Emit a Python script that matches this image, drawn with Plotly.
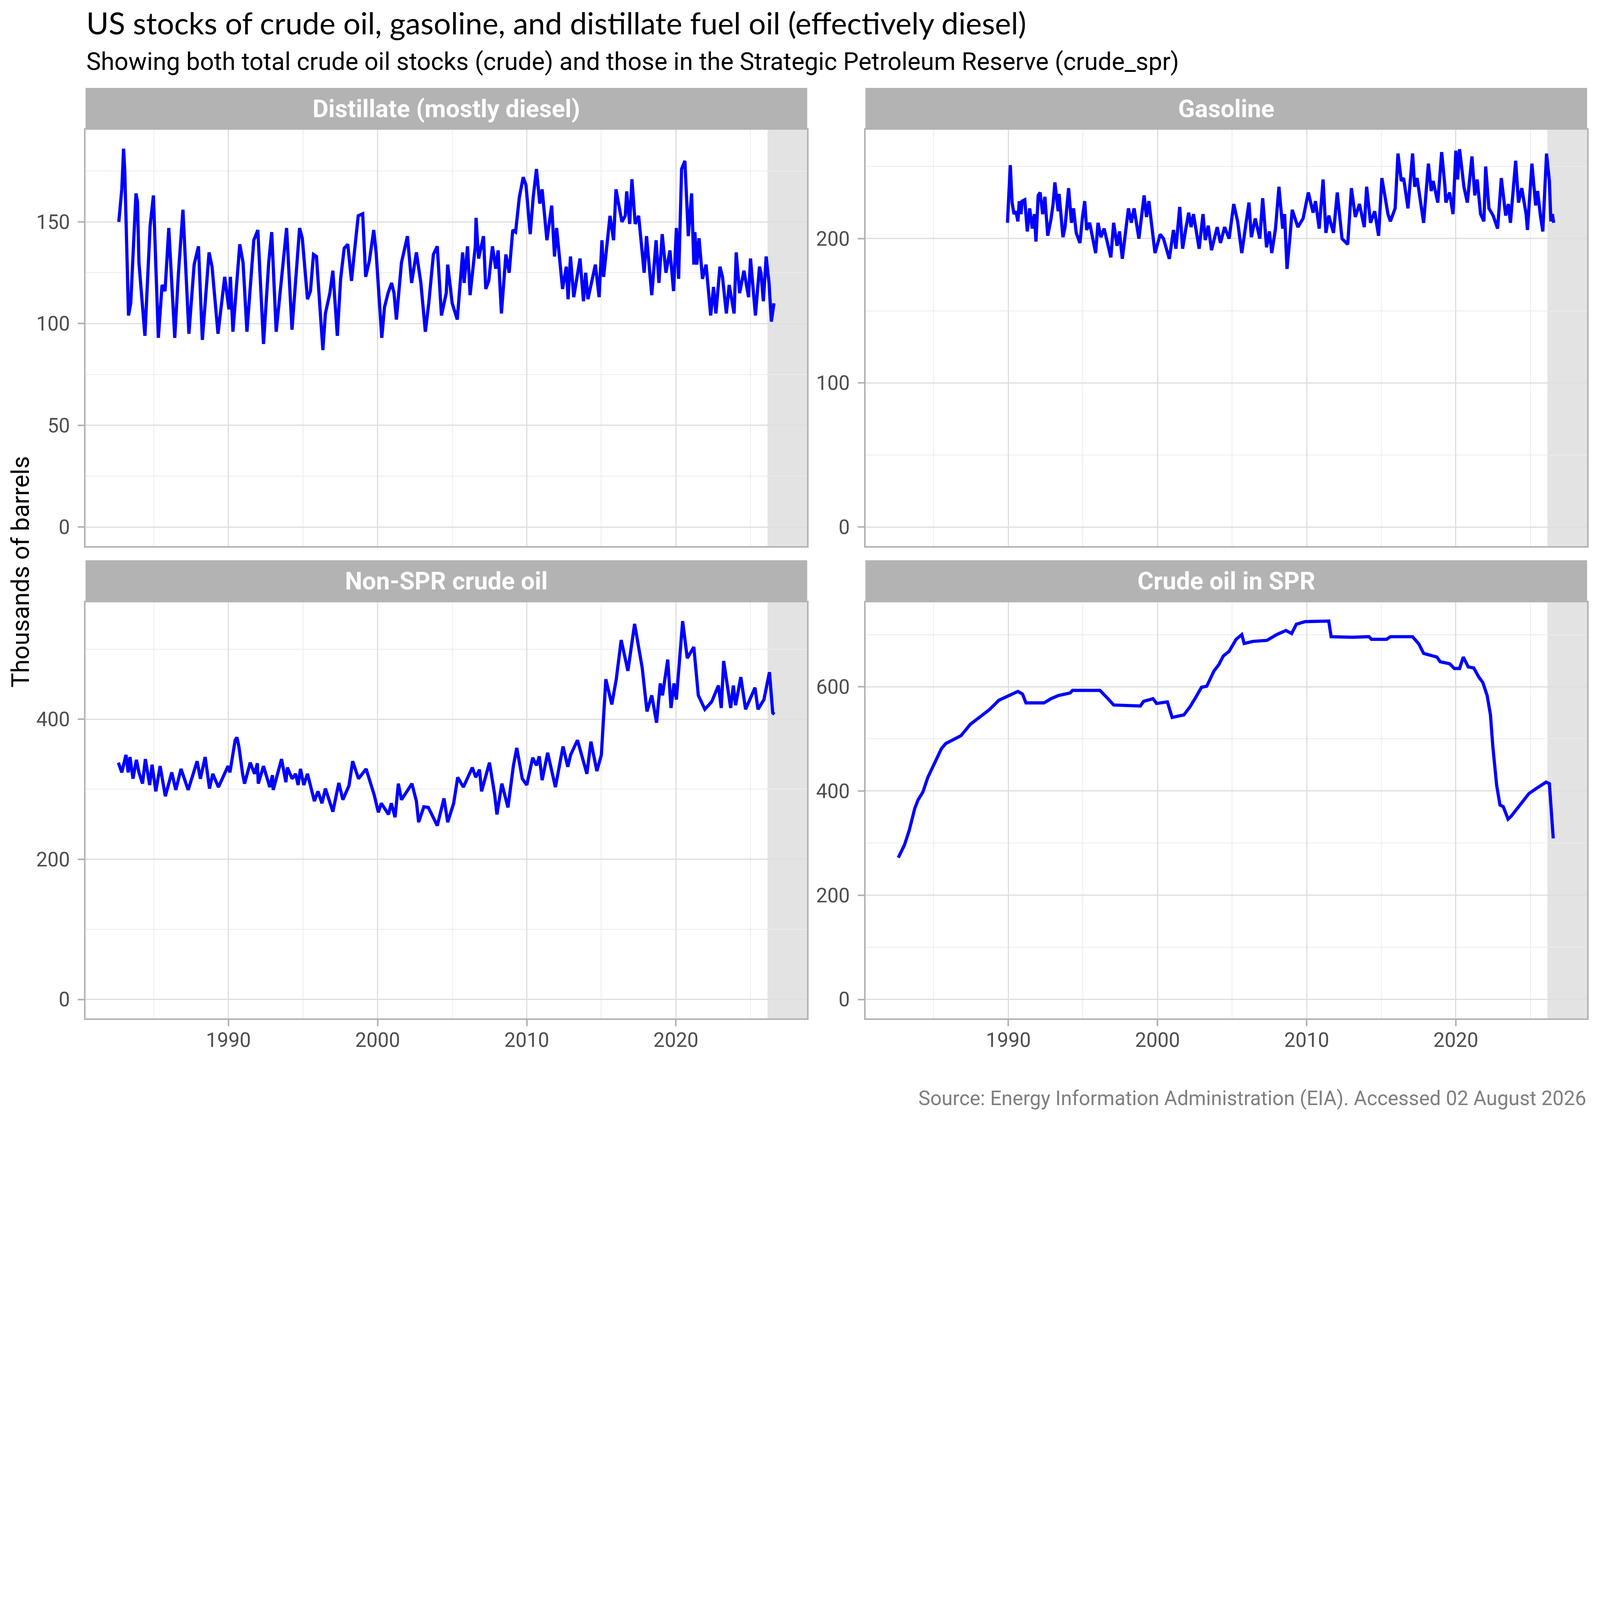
import plotly.graph_objects as go

# distillate fuel oil stocks
dist_year = [1982.65, 1982.72, 1982.85, 1982.97, 1983.05, 1983.3, 1983.45, 1983.8, 1983.9, 1984.0,
             1984.4, 1984.75, 1984.97, 1985.3, 1985.55, 1985.75, 1986.0, 1986.4, 1986.65, 1986.95,
             1987.35, 1987.7, 1987.99, 1988.25, 1988.7, 1988.9, 1989.3, 1989.75, 1990.03, 1990.13,
             1990.3, 1990.76, 1990.98, 1991.24, 1991.7, 1991.97, 1992.35, 1992.7, 1992.9, 1993.2,
             1993.6, 1993.9, 1994.26, 1994.77, 1994.95, 1995.3, 1995.5, 1995.7, 1995.9, 1996.33,
             1996.5, 1996.8, 1997.0, 1997.3, 1997.52, 1997.76, 1998.0, 1998.25, 1998.4, 1998.56,
             1998.7, 1999.0, 1999.2, 1999.45, 1999.74, 1999.9, 2000.28, 2000.46, 2000.7, 2000.94,
             2001.1, 2001.26, 2001.6, 2002.0, 2002.28, 2002.6, 2002.9, 2003.2, 2003.43, 2003.74,
             2004.0, 2004.28, 2004.6, 2004.7, 2005.0, 2005.34, 2005.7, 2005.8, 2006.03, 2006.2,
             2006.55, 2006.6, 2006.77, 2007.1, 2007.25, 2007.45, 2007.7, 2007.92, 2008.08, 2008.3,
             2008.6, 2008.82, 2009.06, 2009.25, 2009.5, 2009.76, 2009.95, 2010.23, 2010.43, 2010.65,
             2010.87, 2011.03, 2011.35, 2011.67, 2011.86, 2012.0, 2012.4, 2012.65, 2012.77, 2012.93,
             2013.15, 2013.57, 2013.8, 2013.95, 2014.1, 2014.6, 2014.85, 2015.04, 2015.15, 2015.58,
             2015.82, 2015.98, 2016.38, 2016.6, 2016.7, 2016.9, 2017.05, 2017.27, 2017.5, 2017.87,
             2018.03, 2018.38, 2018.67, 2018.86, 2019.08, 2019.33, 2019.6, 2019.84, 2020.03, 2020.18,
             2020.38, 2020.6, 2020.83, 2021.05, 2021.2, 2021.27, 2021.4, 2021.55, 2021.78, 2022.02,
             2022.33, 2022.52, 2022.68, 2022.95, 2023.12, 2023.38, 2023.57, 2023.9, 2024.04, 2024.27,
             2024.56, 2024.87, 2025.0, 2025.33, 2025.6, 2025.7, 2025.86, 2026.05, 2026.24, 2026.4,
             2026.57]
dist_val = [150, 156, 166, 186, 175, 104, 110, 164, 160, 130,
            94, 148, 163, 93, 119, 116, 147, 93, 125, 156,
            95, 129, 138, 92, 135, 128, 95, 123, 107, 123,
            96, 139, 130, 96, 141, 146, 90, 130, 145, 96,
            127, 147, 97, 147, 142, 112, 116, 134, 133, 87,
            105, 115, 126, 94, 122, 137, 139, 121, 132, 145,
            153, 154, 123, 131, 146, 135, 93, 108, 115, 120,
            115, 102, 130, 143, 120, 135, 120, 96, 110, 134,
            138, 104, 115, 129, 110, 102, 135, 120, 138, 114,
            138, 152, 132, 143, 117, 121, 138, 127, 136, 105,
            134, 125, 146, 145, 162, 172, 168, 144, 162, 176,
            159, 166, 141, 158, 133, 147, 117, 128, 112, 133,
            113, 132, 111, 125, 112, 129, 113, 141, 123, 153,
            141, 166, 150, 153, 165, 149, 171, 149, 153, 125,
            143, 114, 141, 120, 144, 125, 136, 116, 147, 122,
            176, 180, 143, 164, 129, 145, 129, 142, 122, 129,
            104, 118, 105, 128, 123, 105, 119, 105, 135, 115,
            126, 113, 132, 104, 128, 125, 111, 133, 120, 101,
            110]

gas_year = [1989.94, 1990.13, 1990.25, 1990.38, 1990.5, 1990.64, 1990.73, 1990.85, 1990.92, 1991.1,
            1991.27, 1991.43, 1991.6, 1991.75, 1991.85, 1992.0, 1992.13, 1992.3, 1992.45, 1992.64,
            1992.85, 1993.0, 1993.12, 1993.34, 1993.4, 1993.66, 1993.8, 1994.04, 1994.23, 1994.37,
            1994.55, 1994.8, 1994.97, 1995.12, 1995.25, 1995.45, 1995.85, 1996.01, 1996.2, 1996.42,
            1996.87, 1997.06, 1997.29, 1997.45, 1997.64, 1997.8, 1998.05, 1998.24, 1998.43, 1998.75,
            1999.1, 1999.26, 1999.42, 1999.83, 2000.18, 2000.4, 2000.79, 2001.07, 2001.23, 2001.49,
            2001.68, 2001.9, 2002.09, 2002.25, 2002.41, 2002.57, 2002.79, 2003.05, 2003.2, 2003.4,
            2003.62, 2004.0, 2004.22, 2004.5, 2004.8, 2005.11, 2005.37, 2005.65, 2005.8, 2006.13,
            2006.29, 2006.55, 2006.86, 2007.05, 2007.31, 2007.5, 2007.66, 2007.91, 2008.14, 2008.39,
            2008.52, 2008.68, 2008.87, 2009.03, 2009.41, 2009.76, 2010.11, 2010.43, 2010.59, 2010.84,
            2011.1, 2011.29, 2011.48, 2011.8, 2012.05, 2012.37, 2012.75, 2013.0, 2013.26, 2013.54,
            2013.86, 2014.02, 2014.28, 2014.56, 2014.82, 2015.04, 2015.45, 2015.61, 2015.93, 2016.12,
            2016.34, 2016.5, 2016.79, 2017.1, 2017.24, 2017.4, 2017.84, 2018.16, 2018.35, 2018.48,
            2018.79, 2019.05, 2019.27, 2019.33, 2019.58, 2019.81, 2020.0, 2020.12, 2020.25, 2020.54,
            2020.77, 2021.08, 2021.27, 2021.43, 2021.66, 2021.88, 2022.0, 2022.22, 2022.5, 2022.8,
            2023.05, 2023.34, 2023.52, 2023.66, 2024.01, 2024.2, 2024.42, 2024.71, 2024.8, 2025.1,
            2025.35, 2025.48, 2025.67, 2025.83, 2026.08, 2026.27, 2026.37, 2026.47, 2026.56]
gas_val = [211, 251, 225, 217, 219, 212, 226, 217, 226, 227,
           205, 221, 207, 217, 198, 230, 232, 217, 229, 202,
           213, 224, 239, 219, 231, 201, 208, 235, 211, 221,
           204, 197, 215, 226, 206, 211, 190, 211, 201, 207,
           187, 211, 195, 205, 186, 199, 221, 211, 221, 200,
           230, 215, 226, 190, 203, 200, 186, 206, 193, 222,
           193, 207, 218, 208, 217, 207, 193, 217, 199, 209,
           192, 208, 197, 208, 200, 224, 212, 190, 202, 225,
           201, 214, 200, 228, 194, 205, 190, 207, 236, 207,
           217, 179, 200, 220, 208, 214, 232, 218, 226, 207,
           241, 204, 216, 204, 232, 200, 196, 235, 215, 224,
           208, 236, 211, 219, 202, 242, 217, 212, 221, 259,
           240, 242, 221, 259, 236, 242, 211, 252, 233, 240,
           225, 260, 236, 225, 232, 217, 261, 241, 262, 236,
           225, 257, 230, 241, 217, 212, 250, 221, 216, 207,
           242, 216, 224, 211, 254, 225, 235, 217, 206, 252,
           223, 233, 216, 205, 259, 240, 212, 217, 211]

crude_year = [1982.62, 1982.85, 1983.13, 1983.28, 1983.4, 1983.6, 1983.83, 1984.0, 1984.24, 1984.43,
              1984.72, 1984.88, 1985.13, 1985.42, 1985.77, 1986.2, 1986.47, 1986.82, 1987.3, 1987.9,
              1988.12, 1988.44, 1988.73, 1988.95, 1989.33, 1989.97, 1990.1, 1990.45, 1990.57, 1990.7,
              1990.95, 1991.08, 1991.46, 1991.75, 1991.94, 1992.0, 1992.35, 1992.77, 1992.95, 1993.0,
              1993.56, 1993.85, 1993.95, 1994.27, 1994.5, 1994.67, 1994.83, 1995.05, 1995.3, 1995.76,
              1996.0, 1996.27, 1996.5, 1996.8, 1997.0, 1997.4, 1997.67, 1998.08, 1998.33, 1998.72,
              1999.23, 1999.77, 2000.05, 2000.25, 2000.73, 2000.92, 2001.17, 2001.39, 2001.6, 2002.06,
              2002.3, 2002.6, 2002.75, 2003.1, 2003.4, 2004.0, 2004.45, 2004.7, 2005.1, 2005.37,
              2005.75, 2006.35, 2006.58, 2006.83, 2006.97, 2007.5, 2007.85, 2008.0, 2008.33, 2008.74,
              2008.93, 2009.1, 2009.33, 2009.7, 2010.0, 2010.4, 2010.65, 2010.84, 2011.03, 2011.4,
              2011.92, 2012.43, 2012.75, 2012.94, 2013.4, 2014.03, 2014.3, 2014.7, 2015.0, 2015.3,
              2015.7, 2016.0, 2016.33, 2016.78, 2017.23, 2017.74, 2018.06, 2018.38, 2018.7, 2018.95,
              2019.1, 2019.45, 2019.67, 2019.87, 2020.03, 2020.45, 2020.76, 2021.2, 2021.5, 2021.94,
              2022.4, 2022.85, 2023.04, 2023.2, 2023.67, 2023.85, 2024.0, 2024.35, 2024.67, 2025.3,
              2025.5, 2025.9, 2026.27, 2026.49, 2026.6]
crude_val = [338, 324, 349, 324, 346, 315, 342, 324, 308, 343,
             306, 335, 297, 333, 290, 324, 299, 329, 299, 340,
             315, 346, 301, 322, 303, 333, 324, 370, 374, 361,
             322, 308, 338, 322, 337, 308, 333, 303, 320, 299,
             343, 310, 331, 315, 322, 306, 329, 306, 322, 283,
             297, 280, 301, 280, 268, 309, 285, 305, 340, 315,
             329, 292, 267, 280, 264, 280, 260, 308, 285, 300,
             308, 283, 253, 275, 274, 248, 287, 253, 280, 317,
             303, 331, 317, 328, 297, 338, 292, 264, 308, 274,
             303, 333, 359, 315, 306, 345, 334, 347, 313, 352,
             303, 361, 332, 349, 370, 322, 368, 326, 349, 457,
             421, 457, 513, 469, 536, 473, 411, 434, 395, 451,
             434, 485, 416, 451, 428, 540, 487, 503, 434, 414,
             425, 448, 416, 483, 416, 448, 420, 460, 414, 445,
             414, 428, 467, 409, 407]

spr_year = [1982.62, 1982.85, 1983.03, 1983.35, 1983.54, 1983.73, 1983.95, 1984.27, 1984.6, 1984.75,
            1985.07, 1985.51, 1985.8, 1986.82, 1987.45, 1988.1, 1988.73, 1989.36, 1990.0, 1990.32,
            1990.64, 1990.95, 1991.18, 1992.39, 1992.86, 1993.34, 1994.14, 1994.3, 1996.14, 1996.68,
            1997.06, 1998.85, 1999.07, 1999.7, 1999.94, 2000.66, 2000.98, 2001.77, 2002.19, 2002.57,
            2002.95, 2003.3, 2003.78, 2004.1, 2004.41, 2004.8, 2005.27, 2005.65, 2005.81, 2006.39,
            2007.34, 2007.98, 2008.61, 2008.99, 2009.31, 2009.9, 2011.48, 2011.64, 2013.07, 2014.18,
            2014.34, 2015.36, 2015.61, 2017.1, 2017.52, 2017.84, 2018.73, 2018.95, 2019.59, 2019.9,
            2020.25, 2020.5, 2020.83, 2021.2, 2021.53, 2021.81, 2022.1, 2022.32, 2022.48, 2022.74,
            2022.96, 2023.18, 2023.5, 2023.72, 2024.2, 2024.9, 2025.35, 2026.05, 2026.27, 2026.53]
spr_val = [272, 287, 296, 324, 343, 367, 383, 398, 426, 435,
           457, 481, 491, 506, 528, 543, 556, 574, 582, 586,
           591, 586, 569, 569, 577, 583, 588, 593, 593, 577,
           565, 563, 572, 577, 568, 571, 541, 546, 562, 580,
           599, 601, 630, 642, 659, 668, 691, 700, 683, 687,
           689, 700, 708, 702, 720, 725, 726, 696, 695, 696,
           691, 691, 696, 696, 682, 664, 657, 648, 644, 635,
           635, 657, 638, 636, 619, 608, 583, 546, 485, 410,
           373, 370, 346, 352, 370, 395, 404, 417, 414, 309]

panel_titles = ["Distillate (mostly diesel)", "Gasoline", "Non-SPR crude oil", "Crude oil in SPR"]
year_ticks = [1990, 2000, 2010, 2020]
shade_start = 2026.14

series = [(dist_year, dist_val), (gas_year, gas_val), (crude_year, crude_val), (spr_year, spr_val)]
y_ranges = [[-9.3, 195.3], [-13.1, 275.5], [-27, 567], [-36.3, 762.3]]
y_dticks = [50, 100, 200, 200]
x_range = [1980.42, 2028.8]

# the browser shows the page ~1.465x (4096 css px across 6000 px),
# so size everything in css px from the 6000px target
K = 4096 / 6000
BODY = 8  # default page margin plotly's html leaves around the div


def px(v):
    return v * K


# panel domains in paper coords (worked out from the reference layout)
x_doms = [[0, 0.4806], [0.5194, 1], [0, 0.4806], [0.5194, 1]]
y_doms = [[0.5077, 0.955], [0.5077, 0.955], [0, 0.4473], [0, 0.4473]]
strip_doms = [[0.955, 1.0], [0.955, 1.0], [0.4473, 0.4923], [0.4473, 0.4923]]

GRID = "#dedede"
MINOR = "#ececec"
BORDER = "#b3b3b3"
FONT = "Roboto"
tick_font = dict(family=FONT, size=px(75), color="#4d4d4d")

fig = go.Figure()
layout = {}
shapes = []
annotations = []

for i, (xs, ys) in enumerate(series):
    n = "" if i == 0 else str(i + 1)
    fig.add_trace(go.Scatter(x=xs, y=ys, mode="lines", xaxis="x" + n, yaxis="y" + n,
                             line=dict(color="#0000ff", width=px(12)), showlegend=False,
                             hoverinfo="skip"))
    bottom = i >= 2
    layout["xaxis" + n] = dict(
        domain=x_doms[i], anchor="y" + n, range=x_range,
        tickvals=year_ticks, showticklabels=bottom,
        ticks="outside" if bottom else "", ticklen=px(23), tickwidth=px(6), tickcolor=BORDER,
        ticklabelstandoff=-8,
        tickfont=tick_font,
        showgrid=True, gridcolor=GRID, gridwidth=px(5),
        minor=dict(tickvals=[1985, 1995, 2005, 2015, 2025], showgrid=True,
                   gridcolor=MINOR, gridwidth=px(3), ticks=""),
        showline=True, linecolor=BORDER, linewidth=px(6), mirror=True, zeroline=False,
    )
    layout["yaxis" + n] = dict(
        domain=y_doms[i], anchor="x" + n, range=y_ranges[i],
        tick0=0, dtick=y_dticks[i],
        ticks="outside", ticklen=px(23), tickwidth=px(6), tickcolor=BORDER,
        ticklabelstandoff=round(px(14)),
        tickfont=tick_font,
        showgrid=True, gridcolor=GRID, gridwidth=px(5),
        minor=dict(dtick=y_dticks[i] / 2, tick0=0, showgrid=True,
                   gridcolor=MINOR, gridwidth=px(3), ticks=""),
        showline=True, linecolor=BORDER, linewidth=px(6), mirror=True, zeroline=False,
    )
    # recent-period shading
    shapes.append(dict(type="rect", xref="x" + n, yref="y" + n + " domain",
                       x0=shade_start, x1=x_range[1], y0=0, y1=1,
                       fillcolor="#e3e3e3", line=dict(width=0), layer="below"))
    # facet strip
    shapes.append(dict(type="rect", xref="paper", yref="paper",
                       x0=x_doms[i][0], x1=x_doms[i][1],
                       y0=strip_doms[i][0], y1=strip_doms[i][1],
                       fillcolor=BORDER, line=dict(width=0)))
    annotations.append(dict(text="<b>" + panel_titles[i] + "</b>", xref="paper", yref="paper",
                            x=sum(x_doms[i]) / 2, y=sum(strip_doms[i]) / 2,
                            xanchor="center", yanchor="middle", showarrow=False,
                            font=dict(family=FONT, size=px(92), color="white")))

annotations += [
    dict(text="US stocks of crude oil, gasoline, and distillate fuel oil (effectively diesel)",
         xref="paper", yref="paper", x=0, y=1.0702, xanchor="left", yanchor="middle",
         showarrow=False, font=dict(family="Lato", size=px(114), color="black")),
    dict(text="Showing both total crude oil stocks (crude) and those in the Strategic Petroleum Reserve (crude_spr)",
         xref="paper", yref="paper", x=0, y=1.0284, xanchor="left", yanchor="middle",
         showarrow=False, font=dict(family=FONT, size=px(92), color="black")),
    dict(text="Source: Energy Information Administration (EIA). Accessed 02 August 2026",
         xref="paper", yref="paper", x=1, y=-0.0857, xanchor="right", yanchor="middle",
         showarrow=False, font=dict(family=FONT, size=px(75), color="#7f7f7f")),
    dict(text="Thousands of barrels", xref="paper", yref="paper", x=-0.0433, y=0.48,
         xanchor="center", yanchor="middle", textangle=-90,
         showarrow=False, font=dict(family=FONT, size=px(92), color="black")),
]

fig.update_layout(
    width=int(px(6000) - BODY), height=int(px(4200) - BODY),
    margin=dict(l=px(321) - BODY, r=px(49), t=px(329) - BODY, b=px(381)),
    paper_bgcolor="white", plot_bgcolor="white",
    shapes=shapes, annotations=annotations,
    **layout,
)

fig.write_html("out.html")
